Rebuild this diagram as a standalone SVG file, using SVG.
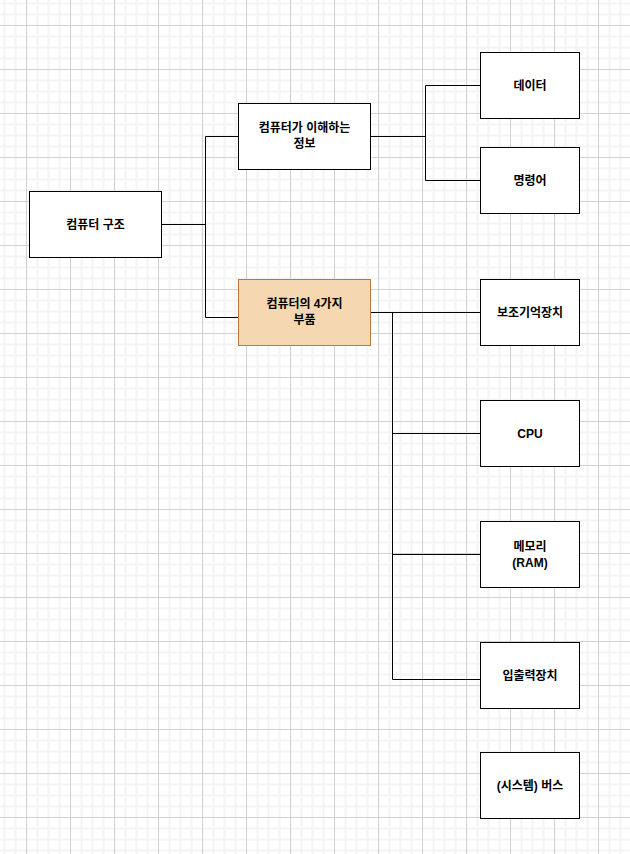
<svg xmlns="http://www.w3.org/2000/svg" width="630" height="854" viewBox="0 0 630 854">
<style>
.box{fill:#ffffff;stroke:#000000;stroke-width:1}
.hl{fill:#f5d8b1;stroke:#b9793a;stroke-width:1}
.lbl{font-family:"Liberation Sans","Noto Sans CJK KR",sans-serif;font-size:12px;font-weight:bold;fill:#000000;text-anchor:middle}
.edge{fill:none;stroke:#000000;stroke-width:1}
</style>
<defs>
<pattern id="grid" patternUnits="userSpaceOnUse" x="26" y="25" width="44" height="44">
<rect x="0" y="0" width="44" height="44" fill="#ffffff"/>
<path d="M11.5 0V44M22.5 0V44M33.5 0V44M0 11.5H44M0 22.5H44M0 33.5H44" stroke="#f4f4f4" stroke-width="2" fill="none"/>
<path d="M0.5 0V44M0 0.5H44" stroke="#d0d0d0" stroke-width="1" fill="none"/>
</pattern>
</defs>
<rect x="0" y="0" width="630" height="854" fill="url(#grid)"/>
<g id="connectors">
<path class="edge" d="M161 224.5H205.5V136.5H238"/>
<path class="edge" d="M205.5 224V317.5H238"/>
<path class="edge" d="M370 136.5H425.5V85.5H480"/>
<path class="edge" d="M425.5 136V180.5H480"/>
<path class="edge" d="M370 312.5H480"/>
<path class="edge" d="M392.5 312V679.5H480"/>
<path class="edge" d="M392.5 433.5H480"/>
<path class="edge" d="M392.5 554.5H480"/>
</g>
<g id="root">
<rect class="box" x="29.5" y="191.5" width="132" height="66"/>
<text class="lbl" x="95.5" y="228.5">컴퓨터 구조</text>
</g>
<g id="info">
<rect class="box" x="238.5" y="103.5" width="132" height="66"/>
<text class="lbl" x="304.5" y="131.5">컴퓨터가 이해하는</text>
<text class="lbl" x="304.5" y="147.5">정보</text>
</g>
<g id="parts">
<rect class="hl" x="238.5" y="279.5" width="132" height="66"/>
<text class="lbl" x="304.5" y="307.5">컴퓨터의 4가지</text>
<text class="lbl" x="304.5" y="323.5">부품</text>
</g>
<g id="data">
<rect class="box" x="480.5" y="52.5" width="99" height="66"/>
<text class="lbl" x="530" y="89.5">데이터</text>
</g>
<g id="instr">
<rect class="box" x="480.5" y="147.5" width="99" height="66"/>
<text class="lbl" x="530" y="184.5">명령어</text>
</g>
<g id="storage">
<rect class="box" x="480.5" y="279.5" width="99" height="66"/>
<text class="lbl" x="530" y="316.5">보조기억장치</text>
</g>
<g id="cpu">
<rect class="box" x="480.5" y="400.5" width="99" height="66"/>
<text class="lbl" x="530" y="437.5">CPU</text>
</g>
<g id="memory">
<rect class="box" x="480.5" y="521.5" width="99" height="66"/>
<text class="lbl" x="530" y="550.5">메모리</text>
<text class="lbl" x="530" y="566.5">(RAM)</text>
</g>
<g id="io">
<rect class="box" x="480.5" y="642.5" width="99" height="66"/>
<text class="lbl" x="530" y="679.5">입출력장치</text>
</g>
<g id="bus">
<rect class="box" x="480.5" y="752.5" width="99" height="66"/>
<text class="lbl" x="530" y="789.5">(시스템) 버스</text>
</g>
</svg>
